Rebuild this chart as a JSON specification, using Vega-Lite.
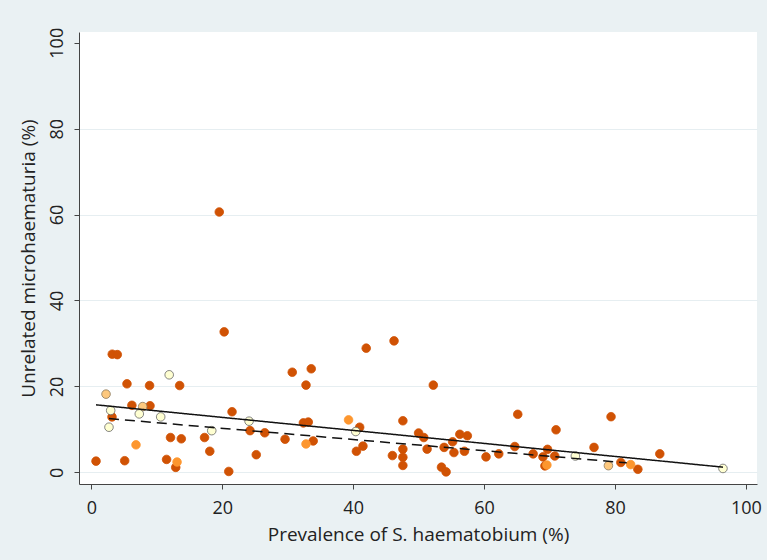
{
  "$schema": "https://vega.github.io/schema/vega-lite/v6.json",
  "autosize": {"type": "none"},
  "padding": {"left": 79, "top": 32, "right": 10, "bottom": 76},
  "width": 678,
  "height": 452,
  "background": "#EAF1F3",
  "config": {
    "view": {"fill": "white", "stroke": null},
    "font": "Open Sans"
  },
  "datasets": {
    "pts": [
      {"x": 3.2, "y": 27.5, "g": "A"}, {"x": 3.97, "y": 27.4, "g": "A"}, {"x": 5.45, "y": 20.6, "g": "A"}, {"x": 8.9, "y": 20.2, "g": "A"},
      {"x": 13.5, "y": 20.2, "g": "A"}, {"x": 6.2, "y": 15.6, "g": "A"}, {"x": 8.97, "y": 15.5, "g": "A"}, {"x": 3.16, "y": 12.9, "g": "A"},
      {"x": 21.5, "y": 14.1, "g": "A"}, {"x": 12.1, "y": 8.1, "g": "A"}, {"x": 13.75, "y": 7.8, "g": "A"}, {"x": 17.3, "y": 8.1, "g": "A"},
      {"x": 18.1, "y": 4.9, "g": "A"}, {"x": 0.72, "y": 2.6, "g": "A"}, {"x": 5.1, "y": 2.7, "g": "A"}, {"x": 11.5, "y": 3.0, "g": "A"},
      {"x": 12.9, "y": 1.15, "g": "A"}, {"x": 21.0, "y": 0.2, "g": "A"}, {"x": 19.55, "y": 60.6, "g": "A"}, {"x": 20.3, "y": 32.7, "g": "A"},
      {"x": 42.0, "y": 28.9, "g": "A"}, {"x": 46.25, "y": 30.6, "g": "A"}, {"x": 30.7, "y": 23.3, "g": "A"}, {"x": 33.6, "y": 24.1, "g": "A"},
      {"x": 32.8, "y": 20.3, "g": "A"}, {"x": 24.25, "y": 9.7, "g": "A"}, {"x": 26.5, "y": 9.2, "g": "A"}, {"x": 29.6, "y": 7.7, "g": "A"},
      {"x": 32.4, "y": 11.5, "g": "A"}, {"x": 33.15, "y": 11.7, "g": "A"}, {"x": 41.0, "y": 10.5, "g": "A"}, {"x": 33.9, "y": 7.3, "g": "A"},
      {"x": 41.5, "y": 6.1, "g": "A"}, {"x": 40.5, "y": 4.9, "g": "A"}, {"x": 25.2, "y": 4.1, "g": "A"}, {"x": 47.6, "y": 12.0, "g": "A"},
      {"x": 46.0, "y": 3.9, "g": "A"}, {"x": 47.6, "y": 5.4, "g": "A"}, {"x": 47.6, "y": 3.5, "g": "A"}, {"x": 47.6, "y": 1.6, "g": "A"},
      {"x": 52.25, "y": 20.3, "g": "A"}, {"x": 50.0, "y": 9.15, "g": "A"}, {"x": 50.8, "y": 8.1, "g": "A"}, {"x": 51.3, "y": 5.4, "g": "A"},
      {"x": 53.9, "y": 5.8, "g": "A"}, {"x": 55.2, "y": 7.1, "g": "A"}, {"x": 56.3, "y": 8.85, "g": "A"}, {"x": 57.45, "y": 8.5, "g": "A"},
      {"x": 55.4, "y": 4.6, "g": "A"}, {"x": 57.0, "y": 4.9, "g": "A"}, {"x": 53.5, "y": 1.2, "g": "A"}, {"x": 54.2, "y": 0.1, "g": "A"},
      {"x": 60.3, "y": 3.6, "g": "A"}, {"x": 62.25, "y": 4.3, "g": "A"}, {"x": 65.15, "y": 13.5, "g": "A"}, {"x": 64.7, "y": 6.0, "g": "A"},
      {"x": 67.5, "y": 4.3, "g": "A"}, {"x": 69.0, "y": 3.6, "g": "A"}, {"x": 69.7, "y": 5.35, "g": "A"}, {"x": 70.8, "y": 3.8, "g": "A"},
      {"x": 71.0, "y": 9.9, "g": "A"}, {"x": 69.3, "y": 1.5, "g": "A"}, {"x": 79.4, "y": 12.95, "g": "A"}, {"x": 76.8, "y": 5.8, "g": "A"},
      {"x": 80.9, "y": 2.3, "g": "A"}, {"x": 83.5, "y": 0.7, "g": "A"}, {"x": 86.85, "y": 4.3, "g": "A"},
      {"x": 6.83, "y": 6.4, "g": "B"}, {"x": 13.1, "y": 2.4, "g": "B"}, {"x": 32.8, "y": 6.6, "g": "B"}, {"x": 39.3, "y": 12.2, "g": "B"},
      {"x": 69.6, "y": 1.7, "g": "B"}, {"x": 82.4, "y": 1.8, "g": "B"},
      {"x": 2.25, "y": 18.2, "g": "C"}, {"x": 7.85, "y": 15.3, "g": "C"}, {"x": 79.0, "y": 1.55, "g": "C"},
      {"x": 11.9, "y": 22.7, "g": "D"}, {"x": 2.96, "y": 14.4, "g": "D"}, {"x": 7.33, "y": 13.6, "g": "D"}, {"x": 10.6, "y": 12.9, "g": "D"},
      {"x": 24.1, "y": 11.9, "g": "D"}, {"x": 2.7, "y": 10.5, "g": "D"}, {"x": 18.4, "y": 9.7, "g": "D"}, {"x": 40.4, "y": 9.5, "g": "D"},
      {"x": 73.95, "y": 3.8, "g": "D"}, {"x": 96.5, "y": 0.9, "g": "D"}
    ],
    "fits": [
      {"x": 0.72, "y": 15.71, "fit": "all"}, {"x": 96.5, "y": 1.2, "fit": "all"},
      {"x": 2.7, "y": 12.5, "fit": "sub"}, {"x": 81.8, "y": 2.2, "fit": "sub"}
    ]
  },
  "layer": [
    {
      "data": {"name": "pts"},
      "mark": {"type": "circle", "size": 74, "opacity": 1, "strokeWidth": 0.8},
      "encoding": {
        "x": {
          "field": "x", "type": "quantitative",
          "scale": {"domain": [-1.88, 101.7], "nice": false, "zero": false},
          "axis": {
            "values": [0, 20, 40, 60, 80, 100],
            "title": "Prevalence of S. haematobium (%)",
            "grid": false,
            "tickSize": 5,
            "labelFontSize": 18,
            "titleFontSize": 19,
            "titleFontWeight": "normal",
            "labelPadding": 10,
            "titlePadding": 8,
            "domainColor": "#444",
            "tickColor": "#444",
            "labelColor": "#222",
            "titleColor": "#222"
          }
        },
        "y": {
          "field": "y", "type": "quantitative",
          "scale": {"domain": [-2.72, 102.5], "nice": false, "zero": false},
          "axis": {
            "values": [0, 20, 40, 60, 80, 100],
            "title": "Unrelated microhaematuria (%)",
            "grid": true,
            "gridColor": {"condition": {"test": "datum.value === 100", "value": "transparent"}, "value": "#E6EEF1"},
            "gridWidth": 1.2,
            "tickSize": 5,
            "labelAngle": 270,
            "labelAlign": "center",
            "labelBaseline": "bottom",
            "labelFontSize": 18,
            "titleFontSize": 19,
            "titleFontWeight": "normal",
            "labelPadding": 8,
            "titlePadding": 10,
            "domainColor": "#444",
            "tickColor": "#444",
            "labelColor": "#222",
            "titleColor": "#222"
          }
        },
        "color": {
          "field": "g", "type": "nominal",
          "scale": {"domain": ["A", "B", "C", "D"], "range": ["#D05204", "#FD962E", "#FDC87E", "#FFFFD2"]},
          "legend": null
        },
        "stroke": {
          "field": "g", "type": "nominal",
          "scale": {"domain": ["A", "B", "C", "D"], "range": ["#D05204", "#FD962E", "#8a7a60", "#666666"]},
          "legend": null
        }
      }
    },
    {
      "data": {"name": "fits"},
      "mark": {"type": "line", "color": "#111111", "strokeWidth": 1.5},
      "encoding": {
        "x": {"field": "x", "type": "quantitative"},
        "y": {"field": "y", "type": "quantitative"},
        "detail": {"field": "fit"},
        "strokeDash": {
          "field": "fit", "type": "nominal",
          "scale": {"domain": ["all", "sub"], "range": [[1, 0], [10, 6]]},
          "legend": null
        }
      }
    }
  ]
}
